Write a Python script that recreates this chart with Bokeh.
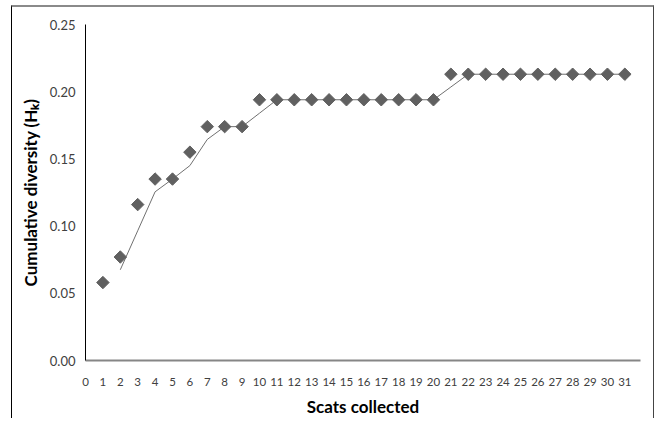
import numpy as np
from bokeh.plotting import figure
from bokeh.models import Range1d, FixedTicker, NumeralTickFormatter
from bokeh.embed import file_html
from bokeh.resources import INLINE

# Data
scats = list(range(1, 32))
diversity = [0.058, 0.077, 0.116, 0.135, 0.135, 0.155, 0.174, 0.174, 0.174, 0.194,
             0.194, 0.194, 0.194, 0.194, 0.194, 0.194, 0.194, 0.194, 0.194, 0.194,
             0.213, 0.213, 0.213, 0.213, 0.213, 0.213, 0.213, 0.213, 0.213, 0.213, 0.213]
x_ticks = list(range(0, 32))
y_ticks = [0.0, 0.05, 0.10, 0.15, 0.20, 0.25]

# 2-period moving average trendline
ma_x = scats[1:]
ma_y = list(np.convolve(diversity, [0.5, 0.5], mode="valid"))

FONT = "Lato"

p = figure(width=643, height=413, output_backend="svg", toolbar_location=None,
           x_range=Range1d(0, 31.9), y_range=Range1d(0, 0.25),
           min_border_left=73, min_border_right=15, min_border_top=17, min_border_bottom=60)
p.styles = {"margin-left": "11px", "margin-top": "5px",
            "border-left": "1px solid #000000", "border-top": "2px solid #8a8a8a",
            "border-right": "1px solid #444444"}
p.outline_line_color = None
p.grid.visible = False
p.background_fill_color = "white"
p.border_fill_color = "white"

p.line(ma_x, ma_y, line_color="#707070", line_width=1)
p.scatter(scats, diversity, marker="square", angle=np.pi / 4, size=8.8,
          fill_color="#606060", line_color="#606060")

xa = p.xaxis[0]
xa.ticker = FixedTicker(ticks=x_ticks)
xa.axis_line_color = "#868686"
xa.axis_line_width = 2
xa.major_tick_line_color = None
xa.minor_tick_line_color = None
xa.major_label_text_font = FONT
xa.major_label_text_font_size = "11.5px"
xa.major_label_text_color = "#404040"
xa.major_label_standoff = 11
xa.axis_label = "Scats collected"
xa.axis_label_text_font = FONT
xa.axis_label_text_font_style = "bold"
xa.axis_label_text_font_size = "17px"
xa.axis_label_text_color = "#000000"
xa.axis_label_standoff = 7

ya = p.yaxis[0]
ya.ticker = FixedTicker(ticks=y_ticks)
ya.formatter = NumeralTickFormatter(format="0.00")
ya.axis_line_color = "#000000"
ya.axis_line_width = 1
ya.major_tick_line_color = None
ya.minor_tick_line_color = None
ya.major_label_text_font = FONT
ya.major_label_text_font_size = "13px"
ya.major_label_text_color = "#404040"
ya.major_label_standoff = 4
ya.axis_label = "Cumulative diversity (H\u2096)"
ya.axis_label_text_font = FONT
ya.axis_label_text_font_style = "bold"
ya.axis_label_text_font_size = "17px"
ya.axis_label_text_color = "#000000"
ya.axis_label_standoff = 6

open("out.html", "w").write(file_html(p, INLINE))
